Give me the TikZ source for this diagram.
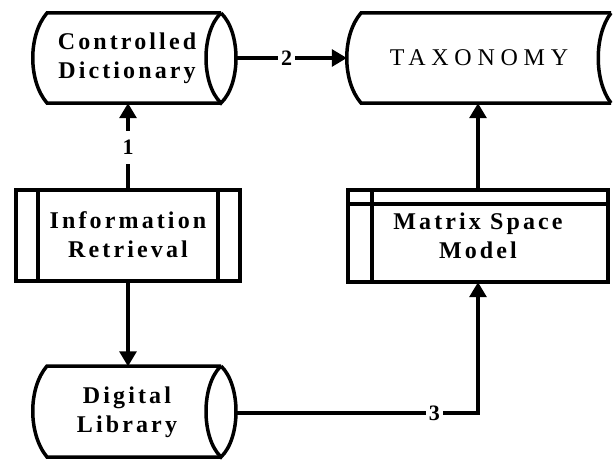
\documentclass[tikz,border=0pt]{standalone}
\usepackage{fontspec}
\usetikzlibrary{arrows.meta,calc}
\newfontfamily\dfont[LetterSpace=13]{Liberation Serif}
\newfontfamily\tfont[LetterSpace=24]{Liberation Serif}
\newfontfamily\nfont{Liberation Serif}
\tikzset{
  shp/.style={line width=3.5pt},
  body/.style={draw=none,inner sep=0pt,align=center,font=\dfont\bfseries\fontsize{24}{29}\selectfont},
  conn/.style={line width=3.2pt,-{Triangle[length=15pt,width=17pt]}},
  lbl/.style={fill=white,inner xsep=3pt,inner ysep=2pt,font=\nfont\bfseries\fontsize{22}{22}\selectfont}
}
\begin{document}
\begin{tikzpicture}[x=1pt,y=-1pt]
\fill[white] (0,0) rectangle (613,460);
\useasboundingbox (0,0) rectangle (613,460);
% nodes
\node[body,minimum width=188pt,minimum height=90pt] (cd) at (127,58) {Controlled\\Dictionary};
\node[body,minimum width=264pt,minimum height=90pt,font=\tfont\fontsize{24}{29}\selectfont] (tax) at (479,58) {TAXONOMY};
\node[body,minimum width=224pt,minimum height=91pt] (ir) at (128,234.5) {Information\\Retrieval};
\node[body,minimum width=260pt,minimum height=92pt] (msm) at (478,236) {Matrix Space\\Model};
\node[body,minimum width=188pt,minimum height=91pt] (dl) at (127,412) {Digital\\Library};
% shapes
\draw[shp] (221,13) -- (47,13) .. controls (28,35) and (28,81) .. (47,103) -- (221,103);
\draw[shp] (221,13) .. controls (201,32) and (201,84) .. (221,103) .. controls (241,84) and (241,32) .. (221,13);
\draw[shp] (611,13) -- (361,13) .. controls (342,35) and (342,81) .. (361,103) -- (611,103);
\draw[shp] (611,13) .. controls (594,35) and (594,81) .. (611,103);
\draw[shp] (16,190) rectangle (240,281);
\draw[shp] (38,190) -- (38,281);
\draw[shp] (218,190) -- (218,281);
\draw[shp] (348,190) rectangle (608,282);
\draw[shp] (372,190) -- (372,282);
\draw[shp] (348,204) -- (608,204);
\draw[shp] (221,366) -- (47,366) .. controls (28,388) and (28,434) .. (47,457) -- (221,457);
\draw[shp] (221,366) .. controls (201,385) and (201,438) .. (221,457) .. controls (241,438) and (241,385) .. (221,366);
% connectors
\draw[conn] (ir.north) -- node[lbl,pos=0.48,inner ysep=9pt] (l1) {1} (ir.north |- cd.south);
\draw[conn] ($(cd.east)+(14,0)$) -- node[lbl,pos=0.46] (l2) {2} (tax.west);
\draw[conn] (ir.south) -- (ir.south |- dl.north);
\draw[conn] ($(dl.east)+(14,1)$) -| node[lbl,pos=0.41] (l3) {3} (msm.south);
\draw[conn] (msm.north) -- (msm.north |- tax.south);
\end{tikzpicture}
\end{document}
